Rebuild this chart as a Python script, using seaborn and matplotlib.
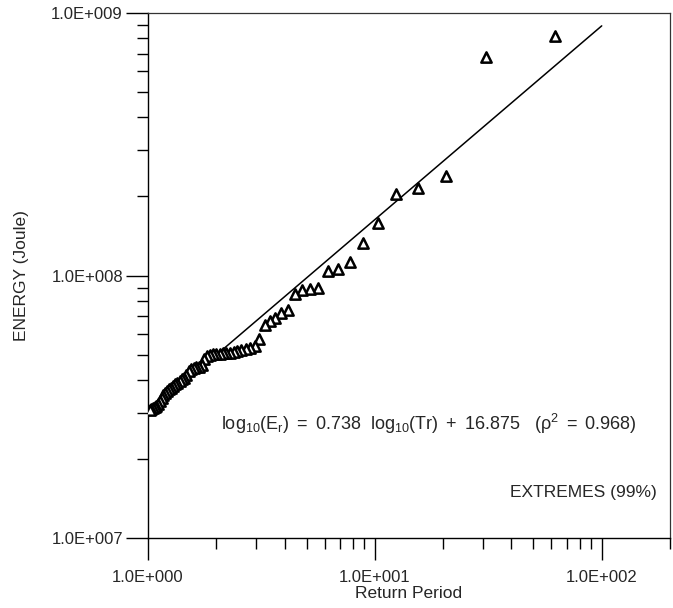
import numpy as np
import pandas as pd
import matplotlib
matplotlib.use("Agg")
import matplotlib.pyplot as plt
import matplotlib.ticker as mticker
import seaborn as sns

# Return periods (Tr) of the ranked events
return_period = [62.0, 31.0, 20.667, 15.5, 12.4, 10.333, 8.857, 7.75, 6.889, 6.2,
                 5.636, 5.167, 4.769, 4.429, 4.133, 3.875, 3.647, 3.444, 3.263, 3.1,
                 2.952, 2.818, 2.696, 2.583, 2.48, 2.385, 2.296, 2.214, 2.138, 2.067,
                 2.0, 1.938, 1.879, 1.824, 1.771, 1.722, 1.676, 1.632, 1.59, 1.55,
                 1.512, 1.476, 1.442, 1.409, 1.378, 1.348, 1.319, 1.292, 1.265, 1.24,
                 1.216, 1.192, 1.17, 1.148, 1.127, 1.107, 1.088, 1.069, 1.051, 1.033,
                 1.016]
# Energy (Joule) of the ranked events
energy = [8.17e8, 6.78e8, 2.39e8, 2.15e8, 2.04e8, 1.58e8, 1.33e8, 1.13e8, 1.06e8, 1.04e8,
          8.99e7, 8.9e7, 8.8e7, 8.5e7, 7.4e7, 7.2e7, 6.9e7, 6.7e7, 6.5e7, 5.75e7,
          5.39e7, 5.30e7, 5.25e7, 5.21e7, 5.16e7, 5.11e7, 5.07e7, 5.07e7, 5.07e7, 5.02e7,
          5.02e7, 5.02e7, 4.98e7, 4.94e7, 4.81e7, 4.56e7, 4.48e7, 4.48e7, 4.44e7, 4.40e7,
          4.33e7, 4.18e7, 4.07e7, 4.03e7, 3.96e7, 3.89e7, 3.86e7, 3.79e7, 3.72e7, 3.69e7,
          3.63e7, 3.56e7, 3.50e7, 3.41e7, 3.32e7, 3.23e7, 3.18e7, 3.15e7, 3.12e7, 3.09e7,
          3.07e7]

# Fitted line (as drawn): log10(E) = slope*log10(Tr) + intercept
fit_tr = [1.0, 100.0]
fit_slope = 0.738
fit_intercept = 7.475

equation_text = r"$\mathregular{log_{10}(E_r)\ =\ 0.738\ \ log_{10}(Tr)\ +\ 16.875\ \ \ (\rho^2\ =\ 0.968)}$"
legend_text = "EXTREMES (99%)"
x_label = "Return Period"
y_label = "ENERGY (Joule)"

sns.set_style("white")
plt.rcParams["font.family"] = ["Liberation Sans", "DejaVu Sans"]
plt.rcParams["mathtext.fontset"] = "custom"
plt.rcParams["mathtext.rm"] = "Liberation Sans"
plt.rcParams["mathtext.it"] = "Liberation Sans"

fig = plt.figure(figsize=(6.73, 6.08), dpi=100)
ax = fig.add_axes([148 / 673, 1 - 538 / 608, (670 - 148) / 673, (538 - 13) / 608])

pts = pd.DataFrame({"Tr": return_period, "E": energy})
fit = pd.DataFrame({"Tr": fit_tr,
                    "E": [10 ** (fit_slope * np.log10(t) + fit_intercept) for t in fit_tr]})

sns.lineplot(data=fit, x="Tr", y="E", color="black", linewidth=1.1, ax=ax)
sns.scatterplot(data=pts, x="Tr", y="E", marker="^", s=55, facecolor="white",
                edgecolor="black", linewidth=1.8, ax=ax, zorder=3)

ax.set_xscale("log")
ax.set_yscale("log")
ax.set_xlim(1, 200)
ax.set_ylim(1e7, 1e9)

fmt = mticker.FuncFormatter(lambda v, p: "1.0E+%03d" % int(round(np.log10(v))))
ax.xaxis.set_major_locator(mticker.LogLocator(base=10, numticks=10))
ax.yaxis.set_major_locator(mticker.LogLocator(base=10, numticks=10))
ax.xaxis.set_minor_locator(mticker.LogLocator(base=10, subs=np.arange(2, 10), numticks=20))
ax.yaxis.set_minor_locator(mticker.LogLocator(base=10, subs=np.arange(2, 10), numticks=20))
ax.xaxis.set_major_formatter(fmt)
ax.yaxis.set_major_formatter(fmt)
ax.xaxis.set_minor_formatter(mticker.NullFormatter())
ax.yaxis.set_minor_formatter(mticker.NullFormatter())

ax.tick_params(which="major", direction="out", length=16, width=1, color="black",
               labelsize=12)
ax.tick_params(which="minor", direction="out", length=8, width=1, color="black")
ax.tick_params(axis="x", which="major", pad=7)
ax.tick_params(axis="y", which="major", pad=2)
ax.tick_params(axis="x", which="both", bottom=True, top=False)
ax.tick_params(axis="y", which="both", left=True, right=False)

for side in ["left", "bottom"]:
    ax.spines[side].set_color("black")
    ax.spines[side].set_linewidth(1.0)
for side in ["top", "right"]:
    ax.spines[side].set_color("#333333")
    ax.spines[side].set_linewidth(0.9)

ax.set_xlabel(x_label, fontsize=12.5, labelpad=1)
ax.set_ylabel(y_label, fontsize=12.5, labelpad=16)

ax.text(0.538, 0.217, equation_text, transform=ax.transAxes, ha="center", va="center",
        fontsize=13)
ax.text(0.975, 0.086, legend_text, transform=ax.transAxes, ha="right", va="center",
        fontsize=12.5)

fig.savefig("out.png", dpi=100)
